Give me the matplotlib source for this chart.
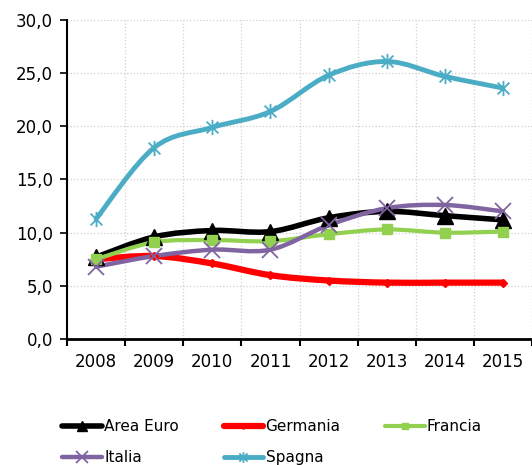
import matplotlib.pyplot as plt
import numpy as np
from matplotlib.path import Path
from matplotlib.patches import PathPatch
from matplotlib.lines import Line2D
from matplotlib.ticker import FuncFormatter, FixedLocator

years = ['2008', '2009', '2010', '2011', '2012', '2013', '2014', '2015']
area_euro = [7.7, 9.6, 10.2, 10.1, 11.4, 12.0, 11.6, 11.2]
germania = [7.5, 7.8, 7.1, 6.0, 5.5, 5.3, 5.3, 5.3]
francia = [7.5, 9.1, 9.3, 9.2, 9.85, 10.3, 10.0, 10.1]
italia = [6.8, 7.8, 8.4, 8.4, 10.7, 12.3, 12.6, 12.0]
spagna = [11.3, 18.0, 19.9, 21.4, 24.8, 26.1, 24.7, 23.6]

plt.rcParams['font.family'] = ['DejaVu Sans']

# asterisk-like marker (x with a vertical bar)
star_marker = Path([(-1, -1), (1, 1), (-1, 1), (1, -1), (0, -1.3), (0, 1.3)],
                   [Path.MOVETO, Path.LINETO, Path.MOVETO, Path.LINETO, Path.MOVETO, Path.LINETO])

series = [
    ('Area Euro', area_euro, 'black', 4.0, dict(marker='^', markersize=11, mfc='black', mec='black')),
    ('Germania', germania, '#ff0000', 4.5, dict(marker='D', markersize=4, mfc='#ff0000', mec='#ff0000')),
    ('Francia', francia, '#92d050', 3.0, dict(marker='s', markersize=7, mfc='#92d050', mec='#92d050')),
    ('Italia', italia, '#8064a2', 3.2, dict(marker='x', markersize=12, mec='#8064a2', mew=1.3)),
    ('Spagna', spagna, '#4bacc6', 3.5, dict(marker=star_marker, markersize=11, mec='#4bacc6', mfc='none', mew=1.3)),
]


def smooth_path(xs, ys):
    pts = np.column_stack([xs, ys]).astype(float)
    n = len(pts)
    verts = [pts[0]]
    codes = [Path.MOVETO]
    for i in range(n - 1):
        p0 = pts[max(i - 1, 0)]
        p1 = pts[i]
        p2 = pts[i + 1]
        p3 = pts[min(i + 2, n - 1)]
        c1 = p1 + (p2 - p0) / 6
        c2 = p2 - (p3 - p1) / 6
        verts += [c1, c2, p2]
        codes += [Path.CURVE4] * 3
    return Path(verts, codes)


fig = plt.figure(figsize=(5.32, 4.65), dpi=100)
ax = fig.add_axes([0.126, 0.271, 0.874, 0.686])

x = np.arange(len(years))
handles = []
for name, vals, color, lw, mk in series:
    ax.add_patch(PathPatch(smooth_path(x, vals), fill=False, edgecolor=color, lw=lw,
                           capstyle='round', joinstyle='round', zorder=3))
    ax.plot(x, vals, linestyle='none', zorder=4, **mk)
    leg_mk = dict(mk)
    leg_mk['markersize'] = mk['markersize'] * 0.7
    handles.append(Line2D([], [], color=color, lw=lw, solid_capstyle='round', **leg_mk))

ax.set_xlim(-0.5, len(years) - 0.5)
ax.set_ylim(0, 30)
ax.set_yticks(np.arange(0, 31, 5))
ax.yaxis.set_major_formatter(FuncFormatter(lambda v, pos: '{:.1f}'.format(v).replace('.', ',')))

ax.xaxis.set_major_locator(FixedLocator(np.arange(-0.5, len(years), 1.0)))
ax.xaxis.set_minor_locator(FixedLocator(x))
ax.set_xticklabels([''] * (len(years) + 1))
ax.set_xticklabels(years, minor=True)
ax.tick_params(axis='x', which='major', length=5, width=1.5, color='black')
ax.tick_params(axis='x', which='minor', length=0, labelsize=12, pad=10)
ax.tick_params(axis='y', length=5, width=1.2, labelsize=12, pad=5)

ax.grid(True, which='major', color='#d0d0d0', linestyle=':', linewidth=0.9)
ax.set_axisbelow(True)
for s in ['top', 'right']:
    ax.spines[s].set_visible(False)
ax.spines['left'].set_linewidth(1.5)
ax.spines['bottom'].set_linewidth(2)

order = [0, 3, 1, 4, 2]
fig.legend([handles[i] for i in order], [series[i][0] for i in order],
           loc='upper left', bbox_to_anchor=(0.103, 0.115), ncol=3, frameon=False,
           fontsize=11, handlelength=2.6, handletextpad=0.15, columnspacing=2.9,
           labelspacing=1.05, borderpad=0)

fig.savefig('out.png', dpi=100)
